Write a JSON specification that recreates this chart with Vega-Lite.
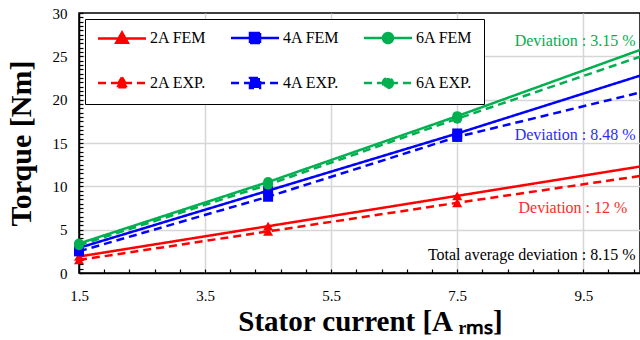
{
  "$schema": "https://vega.github.io/schema/vega-lite/v6.json",
  "width": 561,
  "height": 260,
  "autosize": "none",
  "padding": {"left": 79, "top": 13, "right": 0, "bottom": 67},
  "background": "white",
  "config": {
    "font": "Liberation Serif",
    "view": {"stroke": "black", "strokeWidth": 1.5},
    "axis": {
      "domainColor": "black",
      "domainWidth": 1.5,
      "tickColor": "black",
      "tickWidth": 1.2,
      "tickSize": -4,
      "labelOverlap": false,
      "labelFont": "Liberation Serif",
      "labelFontSize": 15,
      "labelColor": "black",
      "titleFont": "Liberation Serif",
      "titleFontWeight": "bold",
      "titleColor": "black",
      "gridColor": "#d6d6d6",
      "gridWidth": 1.5
    }
  },
  "data": {
    "values": [
      {"current": 1.5, "torque": 1.9, "series": "2A FEM"},
      {"current": 4.5, "torque": 5.4, "series": "2A FEM"},
      {"current": 7.5, "torque": 8.9, "series": "2A FEM"},
      {"current": 10.5, "torque": 12.4, "series": "2A FEM"},
      {"current": 1.5, "torque": 2.9, "series": "4A FEM"},
      {"current": 4.5, "torque": 9.5, "series": "4A FEM"},
      {"current": 7.5, "torque": 16.1, "series": "4A FEM"},
      {"current": 10.5, "torque": 23.0, "series": "4A FEM"},
      {"current": 1.5, "torque": 3.4, "series": "6A FEM"},
      {"current": 4.5, "torque": 10.5, "series": "6A FEM"},
      {"current": 7.5, "torque": 18.1, "series": "6A FEM"},
      {"current": 10.5, "torque": 26.0, "series": "6A FEM"},
      {"current": 1.5, "torque": 1.5, "series": "2A EXP."},
      {"current": 4.5, "torque": 4.8, "series": "2A EXP."},
      {"current": 7.5, "torque": 8.1, "series": "2A EXP."},
      {"current": 10.5, "torque": 11.3, "series": "2A EXP."},
      {"current": 1.5, "torque": 2.5, "series": "4A EXP."},
      {"current": 4.5, "torque": 8.8, "series": "4A EXP."},
      {"current": 7.5, "torque": 15.7, "series": "4A EXP."},
      {"current": 10.5, "torque": 21.0, "series": "4A EXP."},
      {"current": 1.5, "torque": 3.2, "series": "6A EXP."},
      {"current": 4.5, "torque": 10.2, "series": "6A EXP."},
      {"current": 7.5, "torque": 17.8, "series": "6A EXP."},
      {"current": 10.5, "torque": 25.2, "series": "6A EXP."}
    ]
  },
  "layer": [
    {
      "mark": {"type": "line", "strokeWidth": 2.5, "clip": true},
      "encoding": {
        "x": {
          "field": "current",
          "type": "quantitative",
          "scale": {"domain": [1.5, 10.4], "nice": false, "zero": false},
          "axis": {
            "values": [1.5, 1.9, 2.3, 2.7, 3.1, 3.5, 3.9, 4.3, 4.7, 5.1, 5.5, 5.9, 6.3, 6.7, 7.1, 7.5, 7.9, 8.3, 8.7, 9.1, 9.5, 9.9, 10.3],
            "tickCount": 200,
            "labelExpr": "indexof([1.5, 3.5, 5.5, 7.5, 9.5], datum.value) >= 0 ? format(datum.value, '.1f') : ''",
            "labelOverlap": false,
            "labelPadding": 19,
            "labelFlush": false,
            "grid": true,
            "gridOpacity": {"condition": {"test": "indexof([3.5, 5.5, 7.5, 9.5], datum.value) >= 0", "value": 1}, "value": 0},
            "title": "Stator current [A ᵣₘₛ]",
            "titleFontSize": 29,
            "titlePadding": 4,
            "titleX": 291
          }
        },
        "y": {
          "field": "torque",
          "type": "quantitative",
          "scale": {"domain": [0, 30], "nice": false},
          "axis": {
            "values": [0, 0.5, 1, 1.5, 2, 2.5, 3, 3.5, 4, 4.5, 5, 5.5, 6, 6.5, 7, 7.5, 8, 8.5, 9, 9.5, 10, 10.5, 11, 11.5, 12, 12.5, 13, 13.5, 14, 14.5, 15, 15.5, 16, 16.5, 17, 17.5, 18, 18.5, 19, 19.5, 20, 20.5, 21, 21.5, 22, 22.5, 23, 23.5, 24, 24.5, 25, 25.5, 26, 26.5, 27, 27.5, 28, 28.5, 29, 29.5, 30],
            "tickCount": 200,
            "labelExpr": "indexof([0, 5, 10, 15, 20, 25, 30], datum.value) >= 0 ? format(datum.value, 'd') : ''",
            "labelOverlap": false,
            "labelPadding": 16,
            "grid": true,
            "gridOpacity": {"condition": {"test": "indexof([5, 10, 15, 20, 25], datum.value) >= 0", "value": 1}, "value": 0},
            "title": "Torque [Nm]",
            "titleFontSize": 30,
            "titlePadding": 16
          }
        },
        "color": {
          "field": "series",
          "type": "nominal",
          "scale": {
            "domain": ["2A FEM", "4A FEM", "6A FEM", "2A EXP.", "4A EXP.", "6A EXP."],
            "range": ["#ff0000", "#0000ff", "#00b050", "#ff0000", "#0000ff", "#00b050"]
          },
          "legend": {
            "title": null,
            "orient": "top-left",
            "offset": 6,
            "columns": 3,
            "direction": "horizontal",
            "padding": 11,
            "strokeColor": "black",
            "fillColor": "white",
            "cornerRadius": 0,
            "labelFont": "Liberation Serif",
            "labelFontSize": 16,
            "labelColor": "black",
            "labelLimit": 200,
            "symbolSize": 100,
            "symbolStrokeWidth": 2.5,
            "symbolOffset": 18,
            "labelOffset": 20,
            "columnPadding": 19,
            "rowPadding": 24
          }
        },
        "strokeDash": {
          "field": "series",
          "type": "nominal",
          "scale": {
            "domain": ["2A FEM", "4A FEM", "6A FEM", "2A EXP.", "4A EXP.", "6A EXP."],
            "range": [[1, 0], [1, 0], [1, 0], [8, 5], [8, 5], [8, 5]]
          }
        }
      }
    },
    {
      "transform": [{"filter": "datum.current < 10 && indexof(datum.series, '2A') == 0"}],
      "mark": {"type": "point", "shape": "triangle-up", "filled": true, "size": 100, "opacity": 1},
      "encoding": {
        "x": {"field": "current", "type": "quantitative"},
        "y": {"field": "torque", "type": "quantitative"},
        "color": {"field": "series", "type": "nominal"}
      }
    },
    {
      "transform": [{"filter": "datum.current < 10 && indexof(datum.series, '4A') == 0"}],
      "mark": {"type": "point", "shape": "square", "filled": true, "size": 100, "opacity": 1},
      "encoding": {
        "x": {"field": "current", "type": "quantitative"},
        "y": {"field": "torque", "type": "quantitative"},
        "color": {"field": "series", "type": "nominal"}
      }
    },
    {
      "transform": [{"filter": "datum.current < 10 && indexof(datum.series, '6A') == 0"}],
      "mark": {"type": "point", "shape": "circle", "filled": true, "size": 100, "opacity": 1},
      "encoding": {
        "x": {"field": "current", "type": "quantitative"},
        "y": {"field": "torque", "type": "quantitative"},
        "color": {"field": "series", "type": "nominal"}
      }
    },
    {
      "transform": [{"filter": "datum.current > 100"}],
      "mark": {"type": "point", "filled": true, "size": 100, "opacity": 1},
      "encoding": {
        "x": {"field": "current", "type": "quantitative"},
        "y": {"field": "torque", "type": "quantitative"},
        "color": {"field": "series", "type": "nominal"},
        "shape": {
          "field": "series",
          "type": "nominal",
          "scale": {
            "domain": ["2A FEM", "4A FEM", "6A FEM", "2A EXP.", "4A EXP.", "6A EXP."],
            "range": [
              "M-4.8,0H4.8M0,-1.15L1.15,0.85L-1.15,0.85Z",
              "M-4.8,0H4.8M-1,-1H1V1H-1Z",
              "M-4.8,0H4.8M1,0C1,0.552,0.552,1,0,1C-0.552,1,-1,0.552,-1,0C-1,-0.552,-0.552,-1,0,-1C0.552,-1,1,-0.552,1,0Z",
              "M-4.8,0H4.8M0,-1.15L1.15,0.85L-1.15,0.85Z",
              "M-4.8,0H4.8M-1,-1H1V1H-1Z",
              "M-4.8,0H4.8M1,0C1,0.552,0.552,1,0,1C-0.552,1,-1,0.552,-1,0C-1,-0.552,-0.552,-1,0,-1C0.552,-1,1,-0.552,1,0Z"
            ]
          }
        }
      }
    },
    {
      "transform": [{"filter": "datum.current == 1.5 && datum.series == '2A FEM'"}],
      "mark": {"type": "text", "align": "right", "baseline": "middle", "fontSize": 16, "color": "#00b050"},
      "encoding": {"x": {"datum": 10.33}, "y": {"datum": 26.8}, "text": {"value": "Deviation : 3.15 %"}}
    },
    {
      "transform": [{"filter": "datum.current == 1.5 && datum.series == '2A FEM'"}],
      "mark": {"type": "text", "align": "right", "baseline": "middle", "fontSize": 16, "color": "#2b2bff"},
      "encoding": {"x": {"datum": 10.33}, "y": {"datum": 15.9}, "text": {"value": "Deviation : 8.48 %"}}
    },
    {
      "transform": [{"filter": "datum.current == 1.5 && datum.series == '2A FEM'"}],
      "mark": {"type": "text", "align": "right", "baseline": "middle", "fontSize": 16, "color": "#ff2b2b"},
      "encoding": {"x": {"datum": 10.2}, "y": {"datum": 7.5}, "text": {"value": "Deviation : 12 %"}}
    },
    {
      "transform": [{"filter": "datum.current == 1.5 && datum.series == '2A FEM'"}],
      "mark": {"type": "text", "align": "right", "baseline": "middle", "fontSize": 16, "color": "black"},
      "encoding": {"x": {"datum": 10.33}, "y": {"datum": 2.1}, "text": {"value": "Total average deviation : 8.15 %"}}
    }
  ]
}
